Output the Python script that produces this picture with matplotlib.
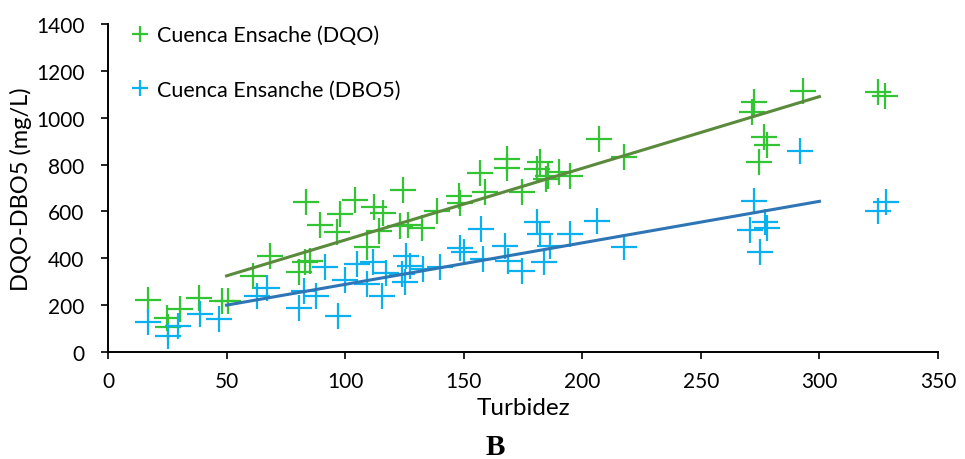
import numpy as np
import matplotlib.pyplot as plt
from matplotlib.lines import Line2D

# --- data ---
dqo_x = [17.0, 24.7, 25.3, 30.4, 38.5, 47.9, 50.8, 61.0, 68.3, 80.7, 83.1, 85.2,
         83.5, 89.6, 96.7, 97.8, 104.0, 109.1, 112.0, 115.8, 114.2, 124.3, 123.2,
         126.7, 132.5, 138.6, 148.2, 148.6, 156.9, 159.0, 168.2, 168.2, 174.5,
         180.8, 182.2, 184.7, 185.7, 190.0, 194.9, 207.2, 217.4, 271.5, 272.6,
         274.7, 276.7, 277.8, 293.0, 324.6, 327.7]
dqo_y = [223, 144, 107, 183, 229, 219, 219, 323, 411, 343, 383, 390,
         641, 544, 512, 589, 650, 447, 617, 593, 518, 693, 539,
         544, 530, 603, 665, 636, 764, 682, 824, 784, 682,
         781, 810, 738, 753, 767, 753, 909, 834, 1023, 1066,
         810, 916, 885, 1115, 1111, 1094]

dbo_x = [17.0, 25.4, 29.7, 38.8, 46.8, 62.7, 66.9, 80.7, 82.7, 87.7, 91.5, 97.1,
         99.9, 104.9, 109.1, 111.9, 115.4, 117.2, 123.9, 125.3, 125.7, 127.4,
         132.7, 140.0, 148.5, 150.2, 157.2, 158.3, 167.4, 168.8, 174.5, 180.8,
         182.2, 183.9, 186.4, 194.9, 206.1, 217.4, 270.8, 272.6, 274.9, 277.1,
         277.8, 291.8, 324.9, 328.0]
dbo_y = [129, 70, 112, 162, 141, 240, 272, 186, 262, 238, 361, 155,
         309, 376, 290, 383, 240, 337, 333, 297, 411, 368,
         354, 361, 445, 425, 525, 397, 454, 390, 347, 556,
         504, 383, 451, 504, 561, 447, 522, 646, 428, 553,
         528, 859, 603, 642]

trend_x = [50, 300]
dqo_trend = [325, 1090]
dbo_trend = [200, 643]

labels = ['Cuenca Ensache (DQO)', 'Cuenca Ensanche (DBO5)']

green = '#33C433'
blue = '#0BB0EE'

plt.rcParams['font.family'] = ['Lato', 'DejaVu Sans']

fig = plt.figure(figsize=(9.65, 4.6), dpi=100)
ax = fig.add_axes([0.1119, 0.2326, 0.8601, 0.7131])

ax.plot(dqo_x, dqo_y, linestyle='none', marker='+', markersize=19,
        markeredgewidth=1.6, color=green)
ax.plot(dbo_x, dbo_y, linestyle='none', marker='+', markersize=19,
        markeredgewidth=1.6, color=blue)
ax.plot(trend_x, dqo_trend, color='#5A8A3C', linewidth=2.2)
ax.plot(trend_x, dbo_trend, color='#2E75B6', linewidth=2.2)

ax.set_xlim(0, 350)
ax.set_ylim(0, 1400)
ax.set_xticks(np.arange(0, 351, 50))
ax.set_yticks(np.arange(0, 1401, 200))
ax.tick_params(labelsize=15, width=1.2, length=5, color='black')
ax.tick_params(axis='x', pad=9)
ax.tick_params(axis='y', pad=12)
for s in ['top', 'right']:
    ax.spines[s].set_visible(False)
for s in ['left', 'bottom']:
    ax.spines[s].set_linewidth(1.4)

ax.set_xlabel('Turbidez', fontsize=17.5, labelpad=4)
ax.set_ylabel('DQO-DBO5 (mg/L)', fontsize=17, labelpad=3)

handles = [Line2D([], [], linestyle='none', marker='+', markersize=11,
                  markeredgewidth=1.6, color=green),
           Line2D([], [], linestyle='none', marker='+', markersize=11,
                  markeredgewidth=1.6, color=blue)]
ax.legend(handles, labels, loc='upper left', bbox_to_anchor=(0.005, 1.055),
          frameon=False, fontsize=15.5, labelspacing=1.6, handlelength=0.8,
          handletextpad=0.4)

fig.text(0.513, 0.028, 'B', fontsize=21, fontweight='bold',
         family='Liberation Serif', ha='center', va='center')

plt.savefig('out.png')
